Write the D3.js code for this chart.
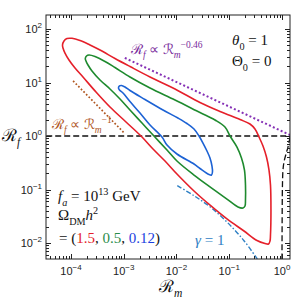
<!DOCTYPE html>
<html>
<head>
<meta charset="utf-8">
<script src="https://cdn.jsdelivr.net/npm/d3@7"></script>
<style>
body { margin: 0; background: #fff; }
svg text { font-family: "Liberation Serif", "Times New Roman", serif; }
.tickLabel { font-family: "Liberation Sans", Arial, sans-serif; font-size: 11px; fill: #222; }
</style>
</head>
<body>
<svg id="chart" width="294" height="299"></svg>
<script>
// all curves as [log10(R_m), log10(R_f)]
const redContour = [
    [-4.161, 1.701], [-4.133, 1.776], [-4.076, 1.822], [-3.981, 1.826], [-3.829, 1.785],
    [-3.640, 1.701], [-3.450, 1.607], [-3.166, 1.449], [-2.882, 1.299], [-2.502, 1.103],
    [-2.028, 0.879], [-1.555, 0.626], [-1.175, 0.458], [-0.796, 0.308], [-0.607, 0.224],
    [-0.512, 0.131], [-0.436, -0.019], [-0.360, -0.187], [-0.294, -0.393], [-0.246, -0.636],
    [-0.218, -0.916], [-0.209, -1.383], [-0.218, -1.850], [-0.227, -1.963], [-0.256, -2.019],
    [-0.322, -2.009], [-0.474, -1.953], [-0.720, -1.776], [-1.043, -1.551], [-1.346, -1.308],
    [-1.668, -1.028], [-1.991, -0.710], [-2.218, -0.467], [-2.445, -0.243], [-2.654, -0.019],
    [-2.957, 0.262], [-3.261, 0.542], [-3.526, 0.822], [-3.773, 1.103], [-3.924, 1.271],
    [-4.038, 1.421], [-4.114, 1.551], [-4.152, 1.645]
];
const greenContour = [
    [-3.729, 1.449], [-3.706, 1.495], [-3.659, 1.514], [-3.545, 1.486], [-3.355, 1.393],
    [-3.166, 1.280], [-2.882, 1.103], [-2.502, 0.897], [-2.028, 0.673], [-1.555, 0.439],
    [-1.270, 0.299], [-1.081, 0.168], [-0.986, 0.000], [-0.853, -0.206], [-0.768, -0.411],
    [-0.711, -0.636], [-0.692, -0.916], [-0.692, -1.196], [-0.701, -1.308], [-0.739, -1.346],
    [-0.834, -1.327], [-1.043, -1.178], [-1.346, -0.963], [-1.668, -0.729], [-1.991, -0.467],
    [-2.180, -0.262], [-2.427, 0.000], [-2.654, 0.243], [-2.882, 0.486], [-3.071, 0.692],
    [-3.261, 0.879], [-3.450, 1.047], [-3.602, 1.215], [-3.678, 1.327], [-3.716, 1.402]
];
const blueContour = [
    [-3.100, 0.897], [-3.081, 0.935], [-3.043, 0.944], [-2.976, 0.916], [-2.882, 0.850],
    [-2.597, 0.682], [-2.256, 0.486], [-1.972, 0.336], [-1.801, 0.234], [-1.668, 0.131],
    [-1.573, 0.000], [-1.498, -0.131], [-1.422, -0.280], [-1.365, -0.411], [-1.327, -0.561],
    [-1.318, -0.673], [-1.336, -0.729], [-1.384, -0.720], [-1.555, -0.607], [-1.668, -0.523],
    [-1.991, -0.336], [-2.180, -0.168], [-2.275, -0.019], [-2.502, 0.206], [-2.692, 0.430],
    [-2.882, 0.645], [-3.014, 0.804], [-3.081, 0.860]
];
const gammaLine = [
    [-1.985, -0.929], [-1.668, -1.116], [-1.352, -1.333], [-1.037, -1.613], [-0.720, -1.957], [-0.468, -2.299]
];
const slopeLine046 = [[-2.98, 1.46], [0.15, 0.02]];
const slopeLine1 = [[-3.96, 1.03], [-2.99, 0.056]];
const unitLine = [[-4.47, 0], [0.15, 0]];
const boundaryLine = [
    [0.152, -0.019], [0.114, -0.206], [0.076, -0.336], [0.038, -0.486], [0.019, -0.636],
    [0.009, -0.916], [0.004, -1.383], [0.0, -2.35]
];
const xTickVals = [1e-4, 1e-3, 1e-2, 1e-1, 1];
const yTickVals = [1e-2, 1e-1, 1, 10, 100];
const omegaVals = ["1.5", "0.5", "0.12"];

const colors = { red: "#e5202a", green: "#1e8a2e", blue: "#1c62d4" };

const svg = d3.select("#chart");
const L = 46, R = 290, T = 15, B = 259;

const x = d3.scaleLog().domain([Math.pow(10, -4.474), Math.pow(10, 0.152)]).range([L, R]);
const y = d3.scaleLog().domain([Math.pow(10, -2.299), Math.pow(10, 2.262)]).range([B, T]);

svg.append("clipPath").attr("id", "clip")
    .append("rect").attr("x", L).attr("y", T).attr("width", R - L).attr("height", B - T);

const plot = svg.append("g").attr("clip-path", "url(#clip)");

const line = d3.line()
    .x(d => x(Math.pow(10, d[0])))
    .y(d => y(Math.pow(10, d[1])));
const loop = d3.line()
    .x(d => x(Math.pow(10, d[0])))
    .y(d => y(Math.pow(10, d[1])))
    .curve(d3.curveCatmullRomClosed.alpha(0.5));
const smooth = d3.line()
    .x(d => x(Math.pow(10, d[0])))
    .y(d => y(Math.pow(10, d[1])))
    .curve(d3.curveCatmullRom.alpha(0.5));

// reference lines
plot.append("path").attr("d", line(unitLine))
    .attr("fill", "none").attr("stroke", "#111").attr("stroke-width", 1.3).attr("stroke-dasharray", "6,3");
plot.append("path").attr("d", smooth(boundaryLine))
    .attr("fill", "none").attr("stroke", "#111").attr("stroke-width", 1.3).attr("stroke-dasharray", "6,3");
plot.append("path").attr("d", line(slopeLine046))
    .attr("fill", "none").attr("stroke", "#8530b5").attr("stroke-width", 2).attr("stroke-dasharray", "2,2.3");
plot.append("path").attr("d", line(slopeLine1))
    .attr("fill", "none").attr("stroke", "#b0561f").attr("stroke-width", 1.7).attr("stroke-dasharray", "1.7,2");
plot.append("path").attr("d", smooth(gammaLine))
    .attr("fill", "none").attr("stroke", "#2f80c4").attr("stroke-width", 1.4).attr("stroke-dasharray", "5,2,1.5,2");

// contours
[[redContour, colors.red], [greenContour, colors.green], [blueContour, colors.blue]].forEach(function (c) {
    plot.append("path").attr("d", loop(c[0]))
        .attr("fill", "none").attr("stroke", c[1]).attr("stroke-width", 1.6);
});

// frame and ticks
svg.append("rect").attr("x", L).attr("y", T).attr("width", R - L).attr("height", B - T)
    .attr("fill", "none").attr("stroke", "#222").attr("stroke-width", 1);

function isMajor(v) {
    let l = Math.log10(v);
    return Math.abs(l - Math.round(l)) < 1e-6;
}

const ticks = svg.append("g").attr("stroke", "#222").attr("stroke-width", 1);
for (let v of x.ticks()) {
    let len = isMajor(v) ? 5 : 3;
    let px = Math.round(x(v)) + 0.5;
    ticks.append("line").attr("x1", px).attr("x2", px).attr("y1", B).attr("y2", B - len);
    ticks.append("line").attr("x1", px).attr("x2", px).attr("y1", T).attr("y2", T + len);
}
for (let v of y.ticks()) {
    let len = isMajor(v) ? 5 : 3;
    let py = Math.round(y(v)) + 0.5;
    ticks.append("line").attr("y1", py).attr("y2", py).attr("x1", L).attr("x2", L + len);
    ticks.append("line").attr("y1", py).attr("y2", py).attr("x1", R).attr("x2", R - len);
}

function powLabel(xp, yp, v, anchor) {
    let e = Math.round(Math.log10(v));
    let t = svg.append("text").attr("class", "tickLabel")
        .attr("x", xp).attr("y", yp).attr("text-anchor", anchor);
    t.append("tspan").text("10");
    t.append("tspan").text(String(e).replace("-", "\u2212"))
        .attr("dy", -5).style("font-size", "8px");
}
for (let v of xTickVals) powLabel(x(v), 275, v, "middle");
for (let v of yTickVals) powLabel(42, y(v) + 4, v, "end");

// rich text helper: parts with sub/sup/italic/colour
function rich(xp, yp, size, color, parts) {
    let t = svg.append("text").attr("x", xp).attr("y", yp)
        .style("font-size", size + "px").attr("fill", color);
    let shift = 0;
    for (let p of parts) {
        let s = p.sub ? size * 0.3 : (p.sup ? -size * 0.4 : 0);
        let ts = t.append("tspan").text(p.t).attr("dy", s - shift);
        shift = s;
        if (p.sub || p.sup) ts.style("font-size", (size * 0.68) + "px");
        if (p.i) ts.style("font-style", "italic");
        if (p.c) ts.attr("fill", p.c);
    }
    return t;
}

rich(2, 141, 17, "#111", [{ t: "\u211B" }, { t: "f", i: true, sub: true }]);
rich(159, 292, 17, "#111", [{ t: "\u211B" }, { t: "m", i: true, sub: true }]);

rich(232, 45, 15, "#111", [{ t: "\u03B8", i: true }, { t: "0", sub: true }, { t: " = 1" }]);
rich(232, 66, 15, "#111", [{ t: "\u0398" }, { t: "0", sub: true }, { t: " = 0" }]);

rich(131, 54, 14, "#7a2c9c", [{ t: "\u211B" }, { t: "f", i: true, sub: true }, { t: " \u221D " },
    { t: "\u211B" }, { t: "m", i: true, sub: true }, { t: "\u22120.46", sup: true }]);
rich(52, 129, 14, "#b0561f", [{ t: "\u211B" }, { t: "f", i: true, sub: true }, { t: " \u221D " },
    { t: "\u211B" }, { t: "m", i: true, sub: true }, { t: "\u22121", sup: true }]);
rich(195, 245, 15, "#2f80c4", [{ t: "\u03B3", i: true }, { t: " = 1" }]);

rich(58, 201, 15, "#111", [{ t: "f", i: true }, { t: "a", i: true, sub: true }, { t: " = 10" },
    { t: "13", sup: true }, { t: " GeV" }]);
rich(58, 220, 15, "#111", [{ t: "\u03A9" }, { t: "DM", sub: true }, { t: "h", i: true }, { t: "2", sup: true }]);
rich(59, 243, 15, "#111", [{ t: "= (" }, { t: omegaVals[0], c: colors.red }, { t: ", " },
    { t: omegaVals[1], c: "#2a8c4a" }, { t: ", " }, { t: omegaVals[2], c: "#1b3fe0" }, { t: ")" }]);
</script>
</body>
</html>
